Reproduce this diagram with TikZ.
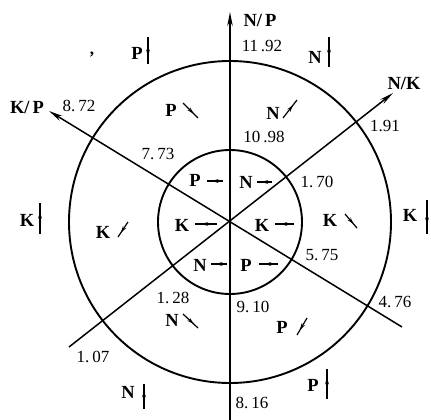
\documentclass[tikz,border=0pt]{standalone}
\usepackage{fontspec}
\setmainfont{Liberation Serif}
\usetikzlibrary{arrows.meta,decorations.markings}
\begin{document}
\begin{tikzpicture}[x=1pt,y=-1pt,
  axis/.style={line width=1.5pt,-{Stealth[length=14pt,width=5.5pt]}},
  ring/.style={draw,circle,line width=1.9pt,inner sep=0pt,outer sep=0pt},
  num/.style={inner sep=0pt,font=\fontsize{17}{17}\selectfont},
  lbl/.style={inner sep=0pt,font=\fontsize{18.5}{18.5}\selectfont\bfseries},
  spindle/.style={line width=1.2pt,postaction={decorate},
    decoration={markings,mark=at position 0.72 with {\arrow{Stealth[length=7pt,width=3.8pt]}}}}]
\useasboundingbox (0,0) rectangle (431,420);
\coordinate (O) at (230,222);
\node[ring,minimum size=144pt] (inner) at (O) {};
\node[ring,minimum size=322pt] (outer) at (O) {};
% axes
\coordinate (vS) at (230,420); \coordinate (vE) at (230,12);
\coordinate (nkS) at (69,347); \coordinate (nkE) at (393,93);
\coordinate (kpS) at (402,327); \coordinate (kpE) at (49,111);
\draw[axis] (vS) -- (vE);
\draw[axis] (nkS) -- (nkE);
\draw[axis] (kpS) -- (kpE);
% axis labels
\node[lbl] (tNP) at (260,20) {N/\,P};
\node[lbl] (tNK) at (404,83) {N/K};
\node[lbl] (tKP) at (27,107) {K/\,P};
% numbers
\node[num] (n1192) at (262,46) {11\,.92};
\node[num] (n191) at (385,126) {1.91};
\node[num] (n1098) at (264,137) {10\,.98};
\node[num] (n170) at (317,182) {1.\,70};
\node[num] (n872) at (79,106) {8.\,72};
\node[num] (n773) at (158,154) {7.\,73};
\node[num] (n128) at (173,298) {1.\,28};
\node[num] (n107) at (93,357) {1.\,07};
\node[num] (n575) at (322,255) {5.\,75};
\node[num] (n476) at (395,302) {4.\,76};
\node[num] (n910) at (253,307) {9.\,10};
\node[num] (n816) at (252,403) {8.\,16};
\node[num] (comma) at (92,55) {\textbf{,}};
% outside letters with vertical arrows
\node[lbl] (oPt) at (137,53) {P};
\coordinate (aPt1) at (148,37); \coordinate (aPt2) at (148,64);
\draw[spindle] (aPt1) -- (aPt2);
\node[lbl] (oNt) at (315,57) {N};
\coordinate (aNt1) at (329,67); \coordinate (aNt2) at (329,37);
\draw[spindle] (aNt1) -- (aNt2);
\node[lbl] (oKl) at (27,220) {K};
\coordinate (aKl1) at (40,234); \coordinate (aKl2) at (40,203);
\draw[spindle] (aKl1) -- (aKl2);
\node[lbl] (oKr) at (410,215) {K};
\coordinate (aKr1) at (427,200); \coordinate (aKr2) at (427,234);
\draw[spindle] (aKr1) -- (aKr2);
\node[lbl] (oNb) at (128,392) {N};
\coordinate (aNb1) at (144,384); \coordinate (aNb2) at (144,409);
\draw[spindle] (aNb1) -- (aNb2);
\node[lbl] (oPb) at (313,385) {P};
\coordinate (aPb1) at (327,399); \coordinate (aPb2) at (327,369);
\draw[spindle] (aPb1) -- (aPb2);
% outer ring letters
\node[lbl] (rP1) at (171,110) {P};
\coordinate (bP1a) at (183,103); \coordinate (bP1b) at (198,118);
\draw[spindle] (bP1a) -- (bP1b);
\node[lbl] (rN1) at (273,113) {N};
\coordinate (bN1a) at (283,118); \coordinate (bN1b) at (297,100);
\draw[spindle] (bN1a) -- (bN1b);
\node[lbl] (rK1) at (103,232) {K};
\coordinate (bK1a) at (128,222); \coordinate (bK1b) at (118,237);
\draw[spindle] (bK1a) -- (bK1b);
\node[lbl] (rK2) at (330,220) {K};
\coordinate (bK2a) at (345,214); \coordinate (bK2b) at (357,228);
\draw[spindle] (bK2a) -- (bK2b);
\node[lbl] (rN2) at (172,320) {N};
\coordinate (bN2a) at (183,314); \coordinate (bN2b) at (198,328);
\draw[spindle] (bN2a) -- (bN2b);
\node[lbl] (rP2) at (282,327) {P};
\coordinate (bP2a) at (307,318); \coordinate (bP2b) at (297,335);
\draw[spindle] (bP2a) -- (bP2b);
% inner letters
\node[lbl] (iP1) at (195,180) {P};
\coordinate (cP1a) at (223,181); \coordinate (cP1b) at (207,181);
\draw[spindle] (cP1a) -- (cP1b);
\node[lbl] (iN1) at (246,182) {N};
\coordinate (cN1a) at (272,182); \coordinate (cN1b) at (257,182);
\draw[spindle] (cN1a) -- (cN1b);
\node[lbl] (iK1) at (182,225) {K};
\coordinate (cK1a) at (217,224); \coordinate (cK1b) at (195,224);
\draw[spindle] (cK1a) -- (cK1b);
\node[lbl] (iK2) at (262,225) {K};
\coordinate (cK2a) at (294,224); \coordinate (cK2b) at (275,224);
\draw[spindle] (cK2a) -- (cK2b);
\node[lbl] (iN2) at (200,265) {N};
\coordinate (cN2a) at (227,264); \coordinate (cN2b) at (211,264);
\draw[spindle] (cN2a) -- (cN2b);
\node[lbl] (iP2) at (246,265) {P};
\coordinate (cP2a) at (278,264); \coordinate (cP2b) at (259,264);
\draw[spindle] (cP2a) -- (cP2b);
\end{tikzpicture}
\end{document}
